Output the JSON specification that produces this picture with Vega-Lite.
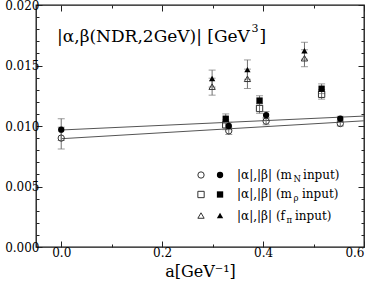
{
  "$schema": "https://vega.github.io/schema/vega-lite/v6.json",
  "width": 328,
  "height": 242,
  "autosize": {"type": "none"},
  "padding": {"left": 36, "top": 5, "right": 10, "bottom": 42},
  "background": "white",
  "config": {
    "view": {"stroke": "#111", "strokeWidth": 1.3},
    "axis": {"domain": false, "grid": false, "labelFont": "DejaVu Serif", "labelFontSize": 12, "labelColor": "black", "tickColor": "#222", "tickWidth": 1, "titleFont": "DejaVu Serif", "titleFontWeight": "normal", "titleColor": "black"},
    "text": {"font": "DejaVu Serif", "color": "black"}
  },
  "datasets": {
    "pts": [
      {"x": 0, "y": 0.0097, "e": 0.0009, "s": "N", "f": "filled"},
      {"x": 0, "y": 0.0090, "e": 0.0009, "s": "N", "f": "open"},
      {"x": 0.332, "y": 0.0100, "e": 0.0003, "s": "N", "f": "filled"},
      {"x": 0.332, "y": 0.0096, "e": 0.0003, "s": "N", "f": "open"},
      {"x": 0.406, "y": 0.0109, "e": 0.0003, "s": "N", "f": "filled"},
      {"x": 0.406, "y": 0.0104, "e": 0.0003, "s": "N", "f": "open"},
      {"x": 0.553, "y": 0.0106, "e": 0.0002, "s": "N", "f": "filled"},
      {"x": 0.553, "y": 0.0102, "e": 0.0002, "s": "N", "f": "open"},
      {"x": 0.326, "y": 0.0106, "e": 0.0004, "s": "rho", "f": "filled"},
      {"x": 0.326, "y": 0.0101, "e": 0.0004, "s": "rho", "f": "open"},
      {"x": 0.393, "y": 0.0121, "e": 0.0004, "s": "rho", "f": "filled"},
      {"x": 0.393, "y": 0.01145, "e": 0.0004, "s": "rho", "f": "open"},
      {"x": 0.516, "y": 0.01308, "e": 0.0004, "s": "rho", "f": "filled"},
      {"x": 0.516, "y": 0.01262, "e": 0.0004, "s": "rho", "f": "open"},
      {"x": 0.299, "y": 0.01392, "e": 0.0007, "s": "pi", "f": "filled"},
      {"x": 0.299, "y": 0.01325, "e": 0.0007, "s": "pi", "f": "open"},
      {"x": 0.369, "y": 0.01466, "e": 0.0008, "s": "pi", "f": "filled"},
      {"x": 0.369, "y": 0.0139, "e": 0.0008, "s": "pi", "f": "open"},
      {"x": 0.482, "y": 0.01622, "e": 0.0007, "s": "pi", "f": "filled"},
      {"x": 0.482, "y": 0.0156, "e": 0.0007, "s": "pi", "f": "open"}
    ],
    "fit": [
      {"x": 0, "y": 0.00967, "g": "filled"},
      {"x": 0.6, "y": 0.01082, "g": "filled"},
      {"x": 0, "y": 0.00895, "g": "open"},
      {"x": 0.6, "y": 0.01043, "g": "open"}
    ],
    "leg": [
      {"x": 0.277, "y": 0.00595, "s": "N", "f": "open"},
      {"x": 0.3147, "y": 0.00595, "s": "N", "f": "filled"},
      {"x": 0.277, "y": 0.00434, "s": "rho", "f": "open"},
      {"x": 0.3147, "y": 0.00434, "s": "rho", "f": "filled"},
      {"x": 0.277, "y": 0.0026, "s": "pi", "f": "open"},
      {"x": 0.3147, "y": 0.0026, "s": "pi", "f": "filled"}
    ],
    "txt": [
      {"x": -0.0083, "y": 0.01735, "t": "|\u03b1,\u03b2(NDR,2GeV)| [GeV", "r": "title"},
      {"x": 0.3771, "y": 0.01798, "t": "3", "r": "sup"},
      {"x": 0.3930, "y": 0.01735, "t": "]", "r": "title"},
      {"x": 0.3484, "y": 0.00595, "t": "|\u03b1|,|\u03b2| (m", "r": "leg"},
      {"x": 0.4604, "y": 0.00595, "t": "N", "r": "sub"},
      {"x": 0.4792, "y": 0.00595, "t": "input)", "r": "leg"},
      {"x": 0.3484, "y": 0.00434, "t": "|\u03b1|,|\u03b2| (m", "r": "leg"},
      {"x": 0.4604, "y": 0.00434, "t": "\u03c1", "r": "sub"},
      {"x": 0.4772, "y": 0.00434, "t": "input)", "r": "leg"},
      {"x": 0.3484, "y": 0.0026, "t": "|\u03b1|,|\u03b2| (f", "r": "leg"},
      {"x": 0.4465, "y": 0.0026, "t": "\u03c0", "r": "sub"},
      {"x": 0.4633, "y": 0.0026, "t": "input)", "r": "leg"}
    ]
  },
  "layer": [
    {
      "data": {"name": "fit"},
      "mark": {"type": "line", "color": "#555", "strokeWidth": 1},
      "encoding": {
        "x": {"field": "x", "type": "quantitative", "scale": {"domain": [-0.05, 0.6], "nice": false, "zero": false},
          "axis": {"orient": "bottom", "values": [0, 0.2, 0.4, 0.6], "format": ".1f", "tickSize": -6, "labelPadding": 6, "title": "a[GeV\u207b\u00b9]", "titleFontSize": 16, "titlePadding": 5}},
        "y": {"field": "y", "type": "quantitative", "scale": {"domain": [0, 0.02], "nice": false, "zero": false},
          "axis": {"orient": "left", "values": [0, 0.005, 0.01, 0.015, 0.02], "format": ".3f", "tickSize": -6, "labelPadding": 3, "title": null}},
        "detail": {"field": "g"}
      }
    },
    {
      "data": {"name": "pts"},
      "mark": {"type": "errorbar", "ticks": true, "color": "#707070", "size": 7, "thickness": 1},
      "encoding": {
        "x": {"field": "x", "type": "quantitative", "scale": {"domain": [-0.05, 0.6], "nice": false, "zero": false},
          "axis": {"orient": "top", "values": [0, 0.2, 0.4, 0.6], "labels": false, "tickSize": -6, "title": null}},
        "y": {"field": "y", "type": "quantitative", "scale": {"domain": [0, 0.02], "nice": false, "zero": false},
          "axis": {"orient": "right", "values": [0, 0.005, 0.01, 0.015, 0.02], "labels": false, "tickSize": -6, "title": null}},
        "yError": {"field": "e"}
      }
    },
    {
      "data": {"name": "pts"},
      "transform": [{"filter": "datum.f == 'open'"}],
      "mark": {"type": "point", "filled": false, "color": "#333", "strokeWidth": 1, "size": 40, "opacity": 1},
      "encoding": {
        "x": {"field": "x", "type": "quantitative", "scale": {"domain": [-0.05, 0.6], "nice": false, "zero": false},
          "axis": {"orient": "bottom", "values": [0.1, 0.3, 0.5], "labels": false, "tickSize": -3, "title": null}},
        "y": {"field": "y", "type": "quantitative", "scale": {"domain": [0, 0.02], "nice": false, "zero": false},
          "axis": {"orient": "left", "values": [0.001, 0.002, 0.003, 0.004, 0.006, 0.007, 0.008, 0.009, 0.011, 0.012, 0.013, 0.014, 0.016, 0.017, 0.018, 0.019], "labels": false, "tickSize": -3, "title": null}},
        "shape": {"field": "s", "type": "nominal", "scale": {"domain": ["N", "rho", "pi"], "range": ["circle", "square", "triangle-up"]}, "legend": null}
      }
    },
    {
      "data": {"name": "pts"},
      "transform": [{"filter": "datum.f == 'filled'"}],
      "mark": {"type": "point", "filled": true, "color": "black", "size": 40, "opacity": 1},
      "encoding": {
        "x": {"field": "x", "type": "quantitative", "scale": {"domain": [-0.05, 0.6], "nice": false, "zero": false},
          "axis": {"orient": "top", "values": [0.1, 0.3, 0.5], "labels": false, "tickSize": -3, "title": null}},
        "y": {"field": "y", "type": "quantitative", "scale": {"domain": [0, 0.02], "nice": false, "zero": false},
          "axis": {"orient": "right", "values": [0.001, 0.002, 0.003, 0.004, 0.006, 0.007, 0.008, 0.009, 0.011, 0.012, 0.013, 0.014, 0.016, 0.017, 0.018, 0.019], "labels": false, "tickSize": -3, "title": null}},
        "shape": {"field": "s", "type": "nominal", "scale": {"domain": ["N", "rho", "pi"], "range": ["circle", "square", "triangle-up"]}, "legend": null}
      }
    },
    {
      "data": {"name": "leg"},
      "transform": [{"filter": "datum.f == 'open'"}],
      "mark": {"type": "point", "filled": false, "color": "#333", "strokeWidth": 1, "size": 40, "opacity": 1},
      "encoding": {
        "x": {"field": "x", "type": "quantitative", "axis": null},
        "y": {"field": "y", "type": "quantitative", "axis": null},
        "shape": {"field": "s", "type": "nominal", "scale": {"domain": ["N", "rho", "pi"], "range": ["circle", "square", "triangle-up"]}, "legend": null}
      }
    },
    {
      "data": {"name": "leg"},
      "transform": [{"filter": "datum.f == 'filled'"}],
      "mark": {"type": "point", "filled": true, "color": "black", "size": 40, "opacity": 1},
      "encoding": {
        "x": {"field": "x", "type": "quantitative", "axis": null},
        "y": {"field": "y", "type": "quantitative", "axis": null},
        "shape": {"field": "s", "type": "nominal", "scale": {"domain": ["N", "rho", "pi"], "range": ["circle", "square", "triangle-up"]}, "legend": null}
      }
    },
    {
      "data": {"name": "txt"},
      "transform": [{"filter": "datum.r == 'title'"}],
      "mark": {"type": "text", "align": "left", "baseline": "middle", "fontSize": 17},
      "encoding": {
        "x": {"field": "x", "type": "quantitative", "axis": null},
        "y": {"field": "y", "type": "quantitative", "axis": null},
        "text": {"field": "t"}
      }
    },
    {
      "data": {"name": "txt"},
      "transform": [{"filter": "datum.r == 'sup'"}],
      "mark": {"type": "text", "align": "left", "baseline": "middle", "fontSize": 11},
      "encoding": {
        "x": {"field": "x", "type": "quantitative", "axis": null},
        "y": {"field": "y", "type": "quantitative", "axis": null},
        "text": {"field": "t"}
      }
    },
    {
      "data": {"name": "txt"},
      "transform": [{"filter": "datum.r == 'leg'"}],
      "mark": {"type": "text", "align": "left", "baseline": "middle", "fontSize": 12},
      "encoding": {
        "x": {"field": "x", "type": "quantitative", "axis": null},
        "y": {"field": "y", "type": "quantitative", "axis": null},
        "text": {"field": "t"}
      }
    },
    {
      "data": {"name": "txt"},
      "transform": [{"filter": "datum.r == 'sub'"}],
      "mark": {"type": "text", "align": "left", "baseline": "middle", "fontSize": 8.5, "dy": 4},
      "encoding": {
        "x": {"field": "x", "type": "quantitative", "axis": null},
        "y": {"field": "y", "type": "quantitative", "axis": null},
        "text": {"field": "t"}
      }
    }
  ],
  "resolve": {"axis": {"x": "independent", "y": "independent"}}
}
